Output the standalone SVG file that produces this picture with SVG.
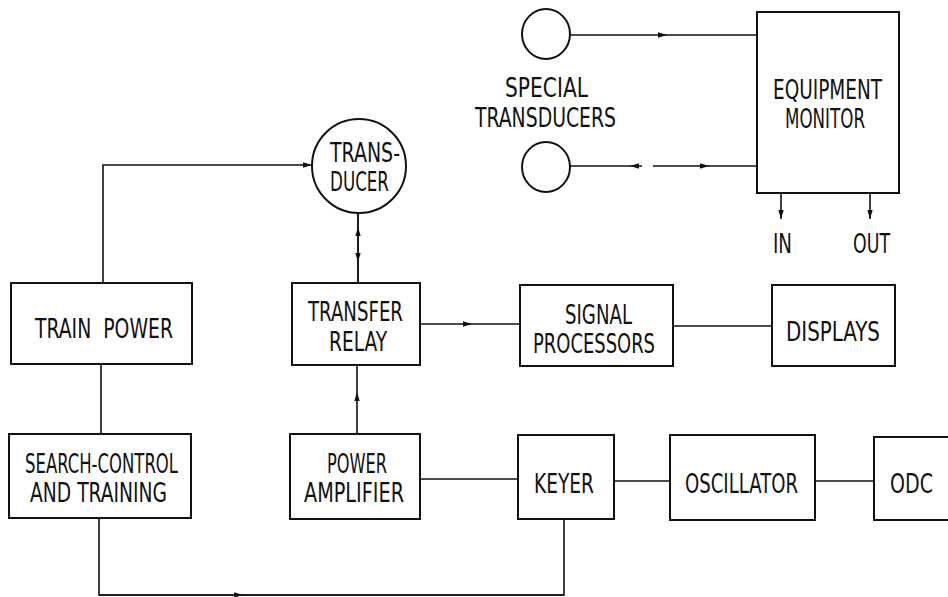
<svg xmlns="http://www.w3.org/2000/svg" width="948" height="597" viewBox="0 0 948 597">
<style>
.box{fill:#fff;stroke:#111;stroke-width:2}
.ln{fill:none;stroke:#111;stroke-width:1.6}
.t{font-family:"DejaVu Sans Condensed","Liberation Sans Narrow","Liberation Sans",sans-serif;font-size:26px;fill:#111;text-anchor:middle}
</style>
<defs>
<marker id="a" viewBox="0 0 10 6" refX="10" refY="3" markerWidth="9" markerHeight="6" markerUnits="userSpaceOnUse" orient="auto">
<path d="M0,0 L10,3 L0,6 z" fill="#111"/>
</marker>
</defs>
<rect width="948" height="597" fill="#fff"/>
<g id="connectors">
<polyline class="ln" points="103,283 103,165 312,165" marker-end="url(#a)"/>
<line class="ln" x1="101" y1="364" x2="101" y2="434"/>
<polyline class="ln" points="358,283 358,227 358,213" marker-mid="url(#a)"/>
<polyline class="ln" points="358,213 358,262 358,283" marker-mid="url(#a)"/>
<polyline class="ln" points="420,324 472,324 520,324" marker-mid="url(#a)"/>
<line class="ln" x1="673" y1="326" x2="772" y2="326"/>
<polyline class="ln" points="357,434 357,392 357,365" marker-mid="url(#a)"/>
<line class="ln" x1="420" y1="479" x2="518" y2="479"/>
<line class="ln" x1="614" y1="481" x2="670" y2="481"/>
<line class="ln" x1="815" y1="481" x2="874" y2="481"/>
<polyline class="ln" points="99,518 99,595 564,595 564,519"/>
<polyline class="ln" points="99,595 243,595 564,595" marker-mid="url(#a)"/>
<polyline class="ln" points="570,35 667,35 757,35" marker-mid="url(#a)"/>
<polyline class="ln" points="642,166 630,166 570,166" marker-mid="url(#a)"/>
<polyline class="ln" points="653,166 709,166 757,166" marker-mid="url(#a)"/>
<path class="ln" d="M781,193 L781,219" marker-end="url(#a)"/>
<path class="ln" d="M870,193 L870,219" marker-end="url(#a)"/>
</g>
<g id="special-transducer-1"><ellipse class="box" cx="546" cy="34" rx="24" ry="25"/></g>
<g id="special-transducer-2"><ellipse class="box" cx="546" cy="167" rx="24" ry="25"/></g>
<g id="special-label">
<text class="t" x="546.5" y="97" textLength="83" lengthAdjust="spacingAndGlyphs">SPECIAL</text>
<text class="t" x="545.5" y="127" textLength="141" lengthAdjust="spacingAndGlyphs">TRANSDUCERS</text>
</g>
<g id="equipment-monitor">
<rect class="box" x="757" y="12" width="142" height="181"/>
<text class="t" x="827.5" y="99" textLength="109" lengthAdjust="spacingAndGlyphs">EQUIPMENT</text>
<text class="t" x="825" y="128" textLength="80" lengthAdjust="spacingAndGlyphs">MONITOR</text>
</g>
<g id="in-out">
<text class="t" x="782.5" y="253" textLength="19" lengthAdjust="spacingAndGlyphs">IN</text>
<text class="t" x="871.5" y="253" textLength="37" lengthAdjust="spacingAndGlyphs">OUT</text>
</g>
<g id="transducer">
<circle class="box" cx="359" cy="166" r="47"/>
<text class="t" x="365" y="162" textLength="70" lengthAdjust="spacingAndGlyphs">TRANS-</text>
<text class="t" x="359.5" y="191" textLength="59" lengthAdjust="spacingAndGlyphs">DUCER</text>
</g>
<g id="train-power">
<rect class="box" x="11" y="283" width="181" height="81"/>
<text class="t" x="104" y="338" textLength="138" lengthAdjust="spacingAndGlyphs" xml:space="preserve">TRAIN  POWER</text>
</g>
<g id="transfer-relay">
<rect class="box" x="292" y="283" width="128" height="82"/>
<text class="t" x="355.5" y="321" textLength="95" lengthAdjust="spacingAndGlyphs">TRANSFER</text>
<text class="t" x="358" y="351" textLength="58" lengthAdjust="spacingAndGlyphs">RELAY</text>
</g>
<g id="signal-processors">
<rect class="box" x="520" y="285" width="153" height="81"/>
<text class="t" x="598.5" y="324" textLength="67" lengthAdjust="spacingAndGlyphs">SIGNAL</text>
<text class="t" x="594" y="353" textLength="122" lengthAdjust="spacingAndGlyphs">PROCESSORS</text>
</g>
<g id="displays">
<rect class="box" x="772" y="285" width="123" height="81"/>
<text class="t" x="833" y="341" textLength="94" lengthAdjust="spacingAndGlyphs">DISPLAYS</text>
</g>
<g id="search-control">
<rect class="box" x="9" y="434" width="182" height="84"/>
<text class="t" x="101.5" y="473" textLength="153" lengthAdjust="spacingAndGlyphs">SEARCH-CONTROL</text>
<text class="t" x="98.5" y="502" textLength="137" lengthAdjust="spacingAndGlyphs">AND TRAINING</text>
</g>
<g id="power-amplifier">
<rect class="box" x="290" y="434" width="130" height="85"/>
<text class="t" x="357" y="473" textLength="60" lengthAdjust="spacingAndGlyphs">POWER</text>
<text class="t" x="354" y="502" textLength="100" lengthAdjust="spacingAndGlyphs">AMPLIFIER</text>
</g>
<g id="keyer">
<rect class="box" x="518" y="435" width="96" height="84"/>
<text class="t" x="564" y="493" textLength="60" lengthAdjust="spacingAndGlyphs">KEYER</text>
</g>
<g id="oscillator">
<rect class="box" x="670" y="435" width="145" height="85"/>
<text class="t" x="741.5" y="493" textLength="113" lengthAdjust="spacingAndGlyphs">OSCILLATOR</text>
</g>
<g id="odc">
<rect class="box" x="874" y="437" width="80" height="83"/>
<text class="t" x="911.5" y="493" textLength="43" lengthAdjust="spacingAndGlyphs">ODC</text>
</g>
</svg>
